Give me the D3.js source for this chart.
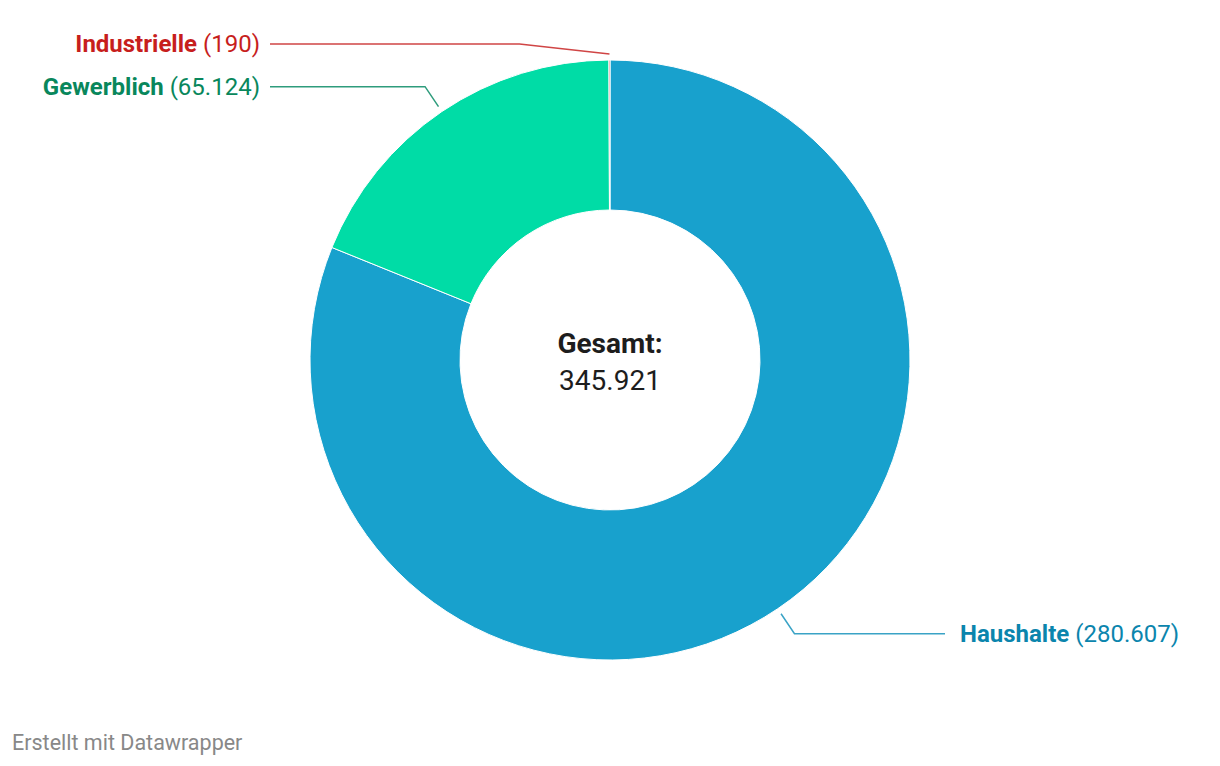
<!DOCTYPE html>
<html>
<head>
<meta charset="utf-8">
<script src="https://cdn.jsdelivr.net/npm/d3@7"></script>
<style>
  body { margin: 0; background: #fff; }
  text { font-family: Roboto, "Noto Sans", sans-serif; }
</style>
</head>
<body>
<script>
// data
const categories = ["Haushalte", "Gewerblich", "Industrielle"]
const values = [280607, 65124, 190]
const sliceColors = ["#18a1cd", "#00dca6", "#c71e1d"]
const labelColors = ["#0b85ad", "#09875c", "#c71e1d"]
const lineColors = ["#3aa3c6", "#2e9c7c", "#d04545"]
const totalLabel = "Gesamt:"

const w = 1220, h = 766
const cx = 610, cy = 360
const rOuter = 300, rInner = 150

const fmt = d3.formatLocale({decimal: ",", thousands: ".", grouping: [3], currency: ["", "€"]}).format(",")

let svg = d3.select("body")
    .append("svg")
    .attr("width", w)
    .attr("height", h)

let data = categories.map((c, i) => ({name: c, value: values[i], i: i}))

let pie = d3.pie().sort(null).value(d => d.value)
let arcs = pie(data)

let arc = d3.arc().innerRadius(rInner).outerRadius(rOuter)

let g = svg.append("g").attr("transform", `translate(${cx},${cy})`)

g.selectAll("path")
    .data(arcs)
    .join("path")
    .attr("d", arc)
    .attr("fill", d => sliceColors[d.data.i])
    .attr("stroke", "#fff")
    .attr("stroke-width", 1)

// center label
g.append("text")
    .attr("text-anchor", "middle")
    .attr("y", -7)
    .style("font-size", "28px")
    .style("font-weight", "bold")
    .style("fill", "#1d1d1d")
    .text(totalLabel)

g.append("text")
    .attr("text-anchor", "middle")
    .attr("y", 30)
    .style("font-size", "28px")
    .style("fill", "#1d1d1d")
    .text(fmt(d3.sum(values)))

// leader lines + labels
function polar(a, r){
    return [cx + r*Math.sin(a), cy - r*Math.cos(a)]
}

const topLimit = 44, gap = 42
let labels = arcs.map(d => {
    let a = (d.startAngle + d.endAngle)/2
    let start = polar(a, 306)
    let elbow = polar(a, 330)
    let right = start[0] >= cx
    return {d: d, start: start, elbow: elbow, y: elbow[1], right: right}
})

// avoid collisions on each side
;[true, false].forEach(side => {
    let ls = labels.filter(l => l.right === side).sort((a, b) => a.y - b.y)
    ls.forEach((l, k) => {
        if (l.y < topLimit) l.y = topLimit
        if (k > 0 && l.y - ls[k-1].y < gap) l.y = ls[k-1].y + gap
    })
    for (let k = ls.length - 2; k >= 0; k--) {
        if (ls[k+1].y - ls[k].y < gap) ls[k].y = Math.max(topLimit, ls[k+1].y - gap)
    }
})

labels.forEach(l => {
    let elbow = l.elbow
    if (Math.abs(l.y - l.elbow[1]) > 0.5) {
        let dx = (l.start[1] - l.y) * 9
        elbow = [l.right ? l.start[0] + dx : l.start[0] - dx, l.y]
    }
    let endX = l.right ? 945 : 270
    let i = l.d.data.i
    svg.append("polyline")
        .attr("points", [l.start, elbow, [endX, l.y]].map(p => p.join(",")).join(" "))
        .attr("fill", "none")
        .attr("stroke", lineColors[i])
        .attr("stroke-width", 1.5)

    let t = svg.append("text")
        .attr("x", l.right ? endX + 15 : endX - 10)
        .attr("y", l.y)
        .attr("dy", "0.35em")
        .attr("text-anchor", l.right ? "start" : "end")
        .style("font-size", "24px")
        .style("fill", labelColors[i])
    t.append("tspan").style("font-weight", "bold").text(l.d.data.name)
    t.append("tspan").text(" (" + fmt(l.d.data.value) + ")")
})

svg.append("text")
    .attr("x", 12)
    .attr("y", 750)
    .style("font-size", "21.5px")
    .style("fill", "#888")
    .text("Erstellt mit Datawrapper")
</script>
</body>
</html>
